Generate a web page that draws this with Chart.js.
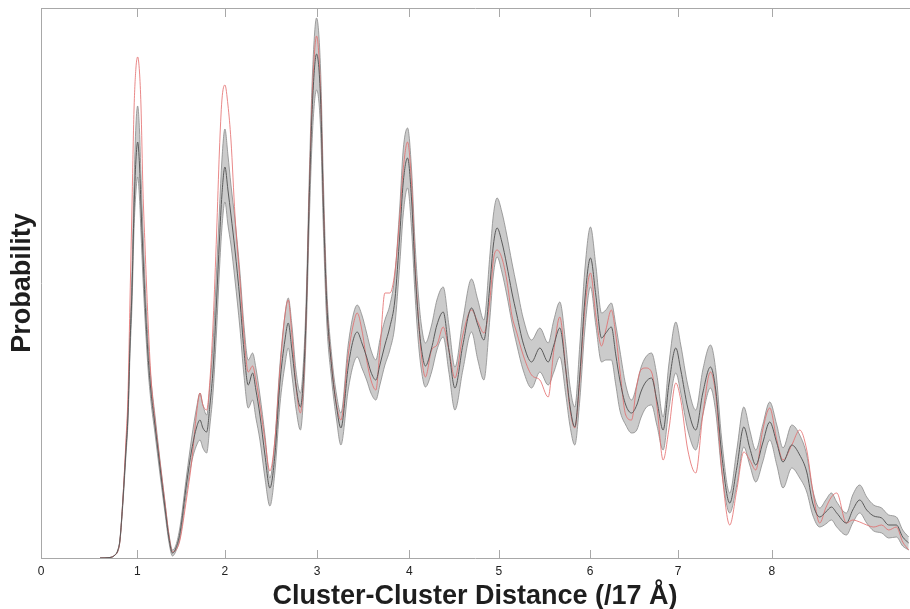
<!DOCTYPE html>
<html>
<head>
<meta charset="utf-8">
<script src="https://cdn.jsdelivr.net/npm/chart.js@4.4.1/dist/chart.umd.min.js"></script>
<style>
  html, body { margin: 0; padding: 0; background: #fff; }
  #wrap { width: 910px; height: 609px; }
</style>
</head>
<body>
<div id="wrap"><canvas id="rdf" width="910" height="609"></canvas></div>
<script>
// Cluster-cluster distance (in units of 17 Å)
const X = [0.646,0.755,0.810,0.842,0.864,0.897,0.930,0.952,0.974,0.996,
  1.018,1.039,1.058,1.078,1.094,1.116,1.138,1.171,1.204,1.247,
  1.302,1.357,1.400,1.439,1.477,1.521,1.594,1.649,1.704,1.740,
  1.772,1.813,1.849,1.885,1.922,1.953,1.980,2.013,2.046,2.079,
  2.123,2.177,2.221,2.268,2.316,2.352,2.396,2.451,2.505,2.560,
  2.615,2.670,2.706,2.746,2.790,2.839,2.877,2.907,2.935,2.973,
  3.016,3.060,3.089,3.126,3.181,3.235,3.282,3.362,3.417,3.461,
  3.512,3.564,3.611,3.665,3.709,3.764,3.818,3.873,3.928,3.964,
  4.012,4.056,4.092,4.128,4.163,4.207,4.275,4.333,4.402,4.464,
  4.530,4.617,4.712,4.781,4.847,4.913,4.951,4.992,5.044,5.098,
  5.153,5.208,5.277,5.369,5.460,5.551,5.613,5.678,5.744,5.788,
  5.842,5.897,5.952,6.014,6.072,6.135,6.182,6.242,6.291,6.335,
  6.400,6.463,6.521,6.565,6.619,6.682,6.740,6.809,6.871,6.948,
  7.002,7.079,7.166,7.243,7.327,7.385,7.451,7.538,7.615,7.692,
  7.757,7.823,7.899,7.976,8.053,8.121,8.217,8.304,8.381,8.446,
  8.523,8.589,8.651,8.709,8.815,8.884,8.961,9.037,9.114,9.201,
  9.278,9.362,9.431,9.497];

// probability (arbitrary units): ensemble mean, its upper / lower envelope, reference (red)
const MEAN = [0,0.5,3,8,18,58,108,143,213,268,
  348,398,416,393,353,303,258,203,166,133,
  91,50,20,5,10,25,75,108,131,138,
  130,126,153,191,258,318,363,391,368,343,
  308,258,208,173,185,168,143,103,70,103,
  175,218,235,208,173,151,188,258,358,458,
  504,458,358,258,191,151,130,191,218,226,
  215,201,186,178,193,213,231,258,325,375,
  400,358,291,241,210,192,210,233,246,208,
  170,213,250,233,218,273,313,330,316,293,
  266,243,215,196,210,196,213,230,188,153,
  131,183,258,300,263,220,225,231,203,178,
  153,145,153,166,176,180,158,128,173,210,
  188,150,128,165,191,168,103,55,90,131,
  110,93,115,136,115,96,113,103,86,55,
  41,46,51,45,35,48,58,48,42,40,
  33,33,21,15];

const UPPER = [0,0.5,3,8,19,61,113,153,223,288,
  373,433,452,428,383,328,278,218,178,143,
  98,56,24,8,13,31,83,120,151,165,
  153,143,173,218,288,348,398,429,403,373,
  338,286,233,198,205,190,163,123,80,118,
  193,243,260,233,188,165,203,273,378,488,
  540,488,383,273,203,163,145,213,243,253,
  243,225,208,198,218,238,253,283,353,408,
  430,388,318,266,233,215,233,258,271,233,
  191,238,279,258,238,303,343,360,346,323,
  296,271,240,218,230,215,238,256,213,173,
  151,213,288,331,293,245,248,255,233,208,
  173,158,173,190,201,205,183,141,193,236,
  213,173,148,188,213,188,118,65,108,151,
  128,108,133,156,133,110,133,123,103,68,
  50,58,65,56,45,63,73,61,53,50,
  43,41,28,21];

const LOWER = [0,0.5,3,7,17,55,103,136,203,253,
  328,366,381,360,326,280,240,190,156,125,
  84,45,16,2,7,20,66,96,113,118,
  110,105,133,168,228,288,330,356,333,313,
  278,230,183,150,158,140,118,80,52,86,
  153,193,210,183,150,128,168,238,333,428,
  468,428,333,238,178,138,113,168,193,201,
  190,178,165,158,173,193,208,233,296,343,
  370,328,266,218,188,171,186,208,221,186,
  148,188,226,198,178,240,283,301,286,263,
  236,213,188,170,186,173,186,201,163,133,
  113,158,228,271,233,196,198,198,173,148,
  133,125,128,140,150,153,133,108,148,185,
  165,128,108,143,170,146,86,45,73,111,
  93,76,96,118,93,70,90,80,66,43,
  31,34,38,31,23,35,45,35,27,25,
  20,21,12,8];

const REF = [0,0.5,3,7,17,60,118,163,258,353,
  448,490,501,486,453,368,313,238,180,138,
  96,55,23,6,8,18,60,96,146,165,
  153,148,178,238,325,408,458,473,453,418,
  343,278,223,186,192,178,153,118,87,118,
  188,243,258,223,173,145,183,258,363,470,
  522,466,363,258,193,153,138,203,233,245,
  228,198,178,168,208,265,265,286,343,388,
  416,373,298,243,203,181,208,213,231,208,
  180,223,248,236,225,258,298,308,300,278,
  243,225,203,183,178,161,208,241,188,150,
  130,178,248,285,243,212,228,248,223,188,
  143,138,173,188,190,186,153,98,128,175,
  158,108,85,143,186,163,88,33,68,106,
  98,88,128,150,118,98,113,128,108,68,
  35,50,61,65,35,38,36,33,31,33,
  28,31,16,8];

// x tick marks sit on the peak positions
const TICK_POS = [0, 1.054, 2.013, 3.023, 4.030, 5.011, 6.010, 6.973, 8.0];
const TICK_LABELS = ["0", "1", "2", "3", "4", "5", "6", "7", "8"];

const AXIS_COLOR = "#a8a8a8";
const FONT = '"Liberation Sans", Arial, Helvetica, sans-serif';

const toPoints = (ys) => X.map((x, i) => ({ x: x, y: ys[i] }));

// box top edge and inward tick marks (top and bottom)
const frameTicks = {
  id: "frameTicks",
  afterDraw(chart) {
    const { ctx, chartArea: area, scales } = chart;
    const xs = scales.x;
    ctx.save();
    ctx.strokeStyle = AXIS_COLOR;
    ctx.lineWidth = 1;
    ctx.beginPath();
    ctx.moveTo(area.left, area.top + 0.5);
    ctx.lineTo(area.right + 1, area.top + 0.5);
    TICK_POS.forEach((v) => {
      const px = Math.round(xs.getPixelForValue(v)) + 0.5;
      ctx.moveTo(px, area.bottom);
      ctx.lineTo(px, area.bottom - 8);
      ctx.moveTo(px, area.top);
      ctx.lineTo(px, area.top + 9);
    });
    ctx.stroke();
    ctx.restore();
  },
};

const lineStyle = {
  pointRadius: 0,
  cubicInterpolationMode: "monotone",
  fill: false,
};

new Chart(document.getElementById("rdf"), {
  type: "line",
  data: {
    datasets: [
      {
        label: "Mean",
        data: toPoints(MEAN),
        borderColor: "#5a5a5a",
        borderWidth: 1,
        ...lineStyle,
      },
      {
        label: "Reference",
        data: toPoints(REF),
        borderColor: "#e36a6a",
        borderWidth: 0.8,
        ...lineStyle,
      },
      {
        label: "Upper",
        data: toPoints(UPPER),
        borderColor: "#8a8a8a",
        borderWidth: 0.8,
        ...lineStyle,
        fill: "+1",
        backgroundColor: "#cbcbcb",
      },
      {
        label: "Lower",
        data: toPoints(LOWER),
        borderColor: "#8a8a8a",
        borderWidth: 0.8,
        ...lineStyle,
      },
    ],
  },
  options: {
    responsive: false,
    animation: false,
    devicePixelRatio: 1,
    layout: { padding: { top: 8, right: 1, left: 0, bottom: 0 } },
    plugins: {
      legend: { display: false },
      tooltip: { enabled: false },
      filler: { drawTime: "beforeDatasetsDraw" },
    },
    scales: {
      x: {
        type: "linear",
        min: 0,
        max: 9.5,
        afterBuildTicks: (scale) => {
          scale.ticks = TICK_POS.map((v) => ({ value: v }));
        },
        afterFit: (scale) => {
          scale.height = 51;
        },
        grid: { display: false, drawTicks: false, tickLength: 0 },
        border: { display: true, color: AXIS_COLOR, width: 1 },
        ticks: {
          autoSkip: false,
          maxRotation: 0,
          padding: 6,
          color: "#222",
          font: { family: FONT, size: 12 },
          callback: (value, index) => TICK_LABELS[index],
        },
        title: {
          display: true,
          text: "Cluster-Cluster Distance (/17 Å)",
          color: "#1e1e1e",
          font: { family: FONT, size: 27, weight: "bold", lineHeight: 0.9 },
          padding: { top: 0, bottom: 0 },
        },
      },
      y: {
        type: "linear",
        min: 0,
        max: 550,
        afterFit: (scale) => {
          scale.width = 41;
        },
        grid: { display: false, drawTicks: false, tickLength: 0 },
        border: { display: true, color: AXIS_COLOR, width: 1 },
        ticks: { display: false },
        title: {
          display: true,
          text: "Probability",
          color: "#1e1e1e",
          font: { family: FONT, size: 27, weight: "bold", lineHeight: 1 },
          padding: { top: 9, bottom: 0 },
        },
      },
    },
  },
  plugins: [frameTicks],
});
</script>
</body>
</html>
